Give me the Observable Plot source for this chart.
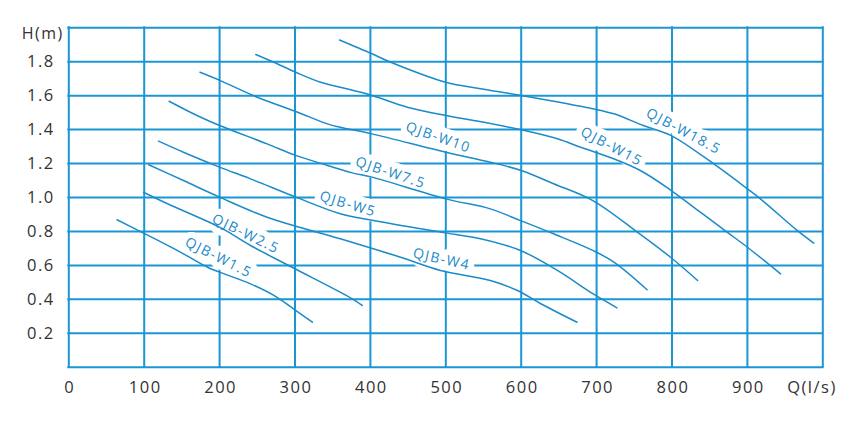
<!DOCTYPE html>
<html><head><meta charset="utf-8">
<script src="https://cdn.jsdelivr.net/npm/d3@7"></script>
<script src="https://cdn.jsdelivr.net/npm/@observablehq/plot@0.6"></script>
<style>
html,body{margin:0;padding:0;background:#fff}
#chart svg text{letter-spacing:1.5px}
</style></head><body><div id="chart"></div>
<script>
// Series (pump models)
const seriesNames = ["QJB-W1.5","QJB-W2.5","QJB-W4","QJB-W5","QJB-W7.5","QJB-W10","QJB-W15","QJB-W18.5"];

// Flow Q (l/s) and head H (m)
const qW1_5 = [64,101,148,184,200,241,272,298,323];
const hW1_5 = [0.869,0.786,0.678,0.589,0.560,0.491,0.423,0.344,0.265];
const qW2_5 = [99,131,200,241,296,376,389];
const hW2_5 = [1.031,0.963,0.825,0.717,0.589,0.403,0.364];
const qW4 = [106,152,200,263,360,440,493,559,595,626,674];
const hW4 = [1.193,1.100,1.002,0.884,0.757,0.648,0.570,0.511,0.452,0.374,0.265];
const qW5 = [119,152,200,241,301,360,404,493,546,599,648,695,727];
const hW5 = [1.332,1.267,1.179,1.110,1.002,0.904,0.864,0.796,0.757,0.688,0.570,0.433,0.350];
const qW7_5 = [133,170,200,263,301,343,376,402,500,559,599,643,695,723,767];
const hW7_5 = [1.567,1.483,1.424,1.316,1.248,1.189,1.145,1.120,0.992,0.933,0.864,0.786,0.688,0.619,0.456];
const qW10 = [174,201,250,301,343,360,402,500,559,600,643,695,754,798,834];
const hW10 = [1.738,1.689,1.591,1.507,1.434,1.414,1.375,1.267,1.208,1.159,1.081,0.982,0.796,0.648,0.511];
const qW15 = [248,272,301,334,360,402,449,500,537,600,648,679,718,758,799,838,873,900,944];
const hW15 = [1.843,1.797,1.738,1.679,1.650,1.601,1.532,1.483,1.454,1.399,1.346,1.296,1.236,1.159,1.041,0.912,0.796,0.707,0.550];
const qW18_5 = [359,402,427,500,546,600,695,723,762,799,855,900,920,966,988];
const hW18_5 = [1.928,1.847,1.797,1.679,1.641,1.601,1.523,1.493,1.424,1.365,1.199,1.051,0.982,0.806,0.731];

// Curve label anchors (data coords) and text angles
const labelQ = [198.5,234.7,494.3,370,426.7,490,719.8,815.3];
const labelH = [0.646,0.786,0.636,0.961,1.146,1.354,1.300,1.390];
const labelAngle = [26.8,26,12.5,16.7,18.4,19.2,27.9,28];

// Axes
const gridX = [0,100,200,300,400,500,600,700,800,900,1000];
const gridY = [0,0.2,0.4,0.6,0.8,1.0,1.2,1.4,1.6,1.8,2.0];
const xTickLabels = [0,100,200,300,400,500,600,700,800,900];
const yTickLabels = [0.2,0.4,0.6,0.8,1.0,1.2,1.4,1.6,1.8];
const xTitle = "Q(l/s)";
const yTitle = "H(m)";

const curveQ = [qW1_5,qW2_5,qW4,qW5,qW7_5,qW10,qW15,qW18_5];
const curveH = [hW1_5,hW2_5,hW4,hW5,hW7_5,hW10,hW15,hW18_5];
const rows = seriesNames.flatMap((s,i)=>curveQ[i].map((q,j)=>({series:s,Q:q,H:curveH[i][j]})));
const labels = seriesNames.map((s,i)=>({name:s,Q:labelQ[i],H:labelH[i],angle:labelAngle[i]}));

const gridColor = "#1a96d4";
const curveColor = "#1b8bc9";
const textColor = "#333333";
const labelFont = "'Open Sans', sans-serif";

const plot = Plot.plot({
  width: 850, height: 427,
  marginLeft: 68.3, marginRight: 27.7, marginTop: 27.3, marginBottom: 60.3,
  x: {domain: [0,1000], axis: null},
  y: {domain: [0,2], axis: null},
  style: {fontFamily: labelFont, background: "white", overflow: "visible"},
  marks: [
    Plot.ruleX(gridX, {x: d=>d, y1: 0, y2: 2, stroke: gridColor, strokeWidth: 2, strokeLinecap: "square"}),
    Plot.ruleY(gridY, {y: d=>d, x1: 0, x2: 1000, stroke: gridColor, strokeWidth: 2, strokeLinecap: "square"}),
    // white halo behind curve labels (breaks the grid)
    Plot.text(labels, {x: "Q", y: "H", text: "name", rotate: "angle", fontSize: 14,
      fill: "white", stroke: "white", strokeWidth: 12, paintOrder: "stroke"}),
    Plot.line(rows, {x: "Q", y: "H", z: "series", curve: "catmull-rom", stroke: curveColor, strokeWidth: 1.5}),
    Plot.text(labels, {x: "Q", y: "H", text: "name", rotate: "angle", fontSize: 14, fill: curveColor}),
    // tick labels
    Plot.text(xTickLabels, {x: d=>d, frameAnchor: "bottom", dy: 25.5, dx: 1, text: d=>String(d), fontSize: 16.5, fill: textColor}),
    Plot.text(yTickLabels, {y: d=>d, frameAnchor: "left", dx: -14, textAnchor: "end", text: d=>d.toFixed(1), fontSize: 16.5, fill: textColor}),
    Plot.text([yTitle], {frameAnchor: "top-left", dx: -5, textAnchor: "end", text: d=>d, fontSize: 16, fill: textColor}),
    Plot.text([xTitle], {frameAnchor: "bottom-right", dx: 14, dy: 25.5, textAnchor: "end", text: d=>d, fontSize: 16.5, fill: textColor})
  ]
});
document.getElementById("chart").appendChild(plot);
</script>
</body></html>
